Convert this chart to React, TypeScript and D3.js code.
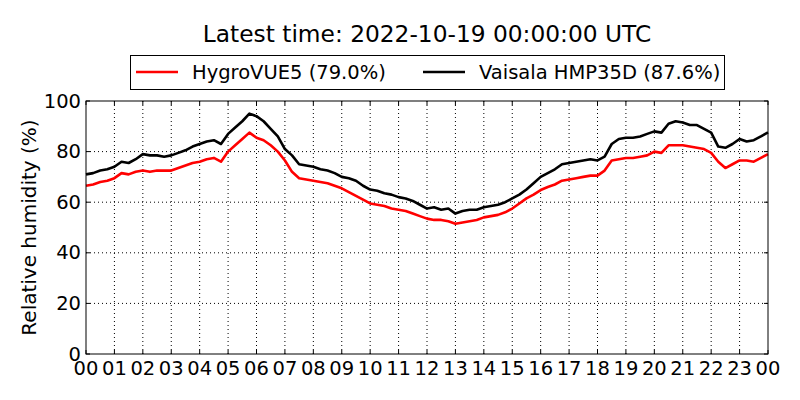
import * as d3 from 'd3';
import React, { useEffect, useRef } from 'react';

const title = 'Latest time: 2022-10-19 00:00:00 UTC';
const yLabel = 'Relative humidity (%)';

// one reading every 15 minutes, 00:00 .. 24:00
const stepHours = 0.25;
const hygroVue = [
  66.5, 67.0, 68.0, 68.5, 69.5, 71.5, 71.0, 72.0, 72.5, 72.0, 72.5, 72.5,
  72.5, 73.5, 74.5, 75.5, 76.0, 77.0, 77.5, 76.0, 80.0, 82.5, 85.0, 87.5,
  85.5, 84.5, 82.5, 80.0, 76.5, 72.0, 69.5, 69.0, 68.5, 68.0, 67.5, 66.5,
  65.5, 64.0, 62.5, 61.0, 59.5, 59.0, 58.5, 57.5, 57.0, 56.5, 55.5, 54.5,
  53.5, 53.0, 53.0, 52.5, 51.5, 52.0, 52.5, 53.0, 54.0, 54.5, 55.0, 56.0,
  57.5, 59.5, 61.5, 63.0, 64.8, 66.0, 67.0, 68.5, 69.0, 69.5, 70.0, 70.5,
  70.5, 72.5, 76.5, 77.0, 77.5, 77.5, 78.0, 78.5, 80.0, 79.5, 82.5, 82.5,
  82.5, 82.0, 81.5, 81.0, 79.5, 76.0, 73.5, 75.0, 76.5, 76.5, 76.0, 77.5,
  79.0,
];
const hmp35d = [
  71.0, 71.5, 72.5, 73.0, 74.0, 76.0, 75.5, 77.0, 79.0, 78.5, 78.5, 78.0,
  78.5, 79.5, 80.5, 82.0, 83.0, 84.0, 84.5, 83.0, 87.0, 89.5, 92.0, 95.0,
  94.0, 92.0, 89.0, 86.0, 81.0, 78.5, 75.0, 74.5, 74.0, 73.0, 72.5, 71.5,
  70.0, 69.5, 68.5, 66.5, 65.0, 64.5, 63.5, 63.0, 62.0, 61.5, 60.5, 59.0,
  57.5, 58.0, 57.0, 57.5, 55.5, 56.5, 57.0, 57.0, 58.0, 58.5, 59.0, 60.0,
  61.5, 63.0, 65.0, 67.5, 70.0, 71.5, 73.0, 75.0, 75.5, 76.0, 76.5, 77.0,
  76.5, 78.0, 83.0, 85.0, 85.5, 85.5, 86.0, 87.0, 88.0, 87.5, 91.0, 92.0,
  91.5, 90.5, 90.5, 89.0, 87.5, 82.0, 81.5, 83.0, 85.0, 84.0, 84.5, 86.0,
  87.6,
];
const seriesNames = ['HygroVUE5 (79.0%)', 'Vaisala HMP35D (87.6%)'];
const seriesColors = ['#ff0000', '#000000'];
const hourLabels = [
  '00', '01', '02', '03', '04', '05', '06', '07', '08', '09', '10', '11',
  '12', '13', '14', '15', '16', '17', '18', '19', '20', '21', '22', '23', '00',
];
const yTicks = [0, 20, 40, 60, 80, 100];

export default function App() {
  const ref = useRef<HTMLDivElement>(null);

  useEffect(() => {
    if (!ref.current) return;
    ref.current.innerHTML = '';

    const W = 800;
    const H = 400;
    const margin = { top: 101, right: 32, bottom: 46, left: 86 };
    const width = W - margin.left - margin.right;
    const height = H - margin.top - margin.bottom;
    const font = 'DejaVu Sans, sans-serif';
    const fs = 19.5;

    const x = d3.scaleLinear().domain([0, 24]).range([0, width]);
    const y = d3.scaleLinear().domain([0, 100]).range([height, 0]);

    const svg = d3
      .select(ref.current)
      .append('svg')
      .attr('width', W)
      .attr('height', H)
      .style('position', 'absolute')
      .style('left', 0)
      .style('top', 0)
      .style('background', '#fff')
      .style('font-family', font);

    svg
      .append('text')
      .attr('x', margin.left + width / 2)
      .attr('y', 42)
      .attr('text-anchor', 'middle')
      .attr('font-size', 23.3)
      .text(title);

    const g = svg
      .append('g')
      .attr('transform', `translate(${margin.left},${margin.top})`);

    // grid
    const hours = d3.range(0, 25);
    g.selectAll('.vgrid')
      .data(hours.slice(1, -1))
      .enter()
      .append('line')
      .attr('x1', d => x(d))
      .attr('x2', d => x(d))
      .attr('y1', 0)
      .attr('y2', height)
      .attr('stroke', '#000')
      .attr('stroke-width', 1)
      .attr('stroke-dasharray', '1,3');
    g.selectAll('.hgrid')
      .data(yTicks.slice(1, -1))
      .enter()
      .append('line')
      .attr('x1', 0)
      .attr('x2', width)
      .attr('y1', d => y(d))
      .attr('y2', d => y(d))
      .attr('stroke', '#000')
      .attr('stroke-width', 1)
      .attr('stroke-dasharray', '1,3');

    // lines
    const line = d3
      .line<number>()
      .x((_, i) => x(i * stepHours))
      .y(d => y(d));
    [hygroVue, hmp35d].forEach((s, i) => {
      g.append('path')
        .datum(s)
        .attr('d', line)
        .attr('fill', 'none')
        .attr('stroke', seriesColors[i])
        .attr('stroke-width', 2.6)
        .attr('stroke-linejoin', 'round');
    });

    // frame + inward ticks on all sides
    g.append('rect')
      .attr('width', width)
      .attr('height', height)
      .attr('fill', 'none')
      .attr('stroke', '#000')
      .attr('stroke-width', 1);
    const tl = 4;
    hours.forEach(h => {
      g.append('line').attr('x1', x(h)).attr('x2', x(h)).attr('y1', height).attr('y2', height - tl).attr('stroke', '#000');
      g.append('line').attr('x1', x(h)).attr('x2', x(h)).attr('y1', 0).attr('y2', tl).attr('stroke', '#000');
    });
    yTicks.forEach(v => {
      g.append('line').attr('x1', 0).attr('x2', tl).attr('y1', y(v)).attr('y2', y(v)).attr('stroke', '#000');
      g.append('line').attr('x1', width).attr('x2', width - tl).attr('y1', y(v)).attr('y2', y(v)).attr('stroke', '#000');
    });

    // tick labels
    g.selectAll('.xl')
      .data(hours)
      .enter()
      .append('text')
      .attr('x', d => x(d))
      .attr('y', height + 21)
      .attr('text-anchor', 'middle')
      .attr('font-size', fs)
      .text(d => hourLabels[d]);
    g.selectAll('.yl')
      .data(yTicks)
      .enter()
      .append('text')
      .attr('x', -5)
      .attr('y', d => y(d) + 6.5)
      .attr('text-anchor', 'end')
      .attr('font-size', fs)
      .text(d => String(d));

    svg
      .append('text')
      .attr('transform', `translate(35.5,${margin.top + height / 2}) rotate(-90)`)
      .attr('text-anchor', 'middle')
      .attr('font-size', 20)
      .text(yLabel);

    // legend
    const lg = svg.append('g');
    lg.append('rect')
      .attr('x', 130.5)
      .attr('y', 55.5)
      .attr('width', 594)
      .attr('height', 34)
      .attr('fill', '#fff')
      .attr('stroke', '#000');
    const entryX = [136, 423];
    seriesNames.forEach((n, i) => {
      lg.append('line')
        .attr('x1', entryX[i])
        .attr('x2', entryX[i] + 42)
        .attr('y1', 72)
        .attr('y2', 72)
        .attr('stroke', seriesColors[i])
        .attr('stroke-width', 2.6);
      lg.append('text')
        .attr('x', entryX[i] + 56)
        .attr('y', 79)
        .attr('font-size', fs)
        .text(n);
    });
  }, []);

  return <div ref={ref}></div>;
}
